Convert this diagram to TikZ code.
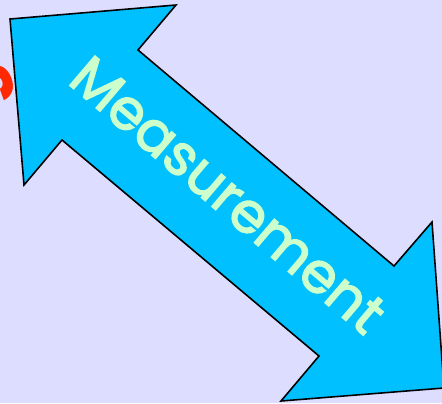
\documentclass[tikz,border=0pt]{standalone}
\usepackage{fontspec}
\setmainfont{Poppins}
\usetikzlibrary{positioning}
\definecolor{SlideLavender}{RGB}{221, 221, 255}
\definecolor{ArrowCyan}{RGB}{0, 192, 255}
\definecolor{LabelMint}{RGB}{204, 255, 204}
\definecolor{SlideRed}{RGB}{255, 40, 0}

\begin{document}
\begin{tikzpicture}[
        x = 0.02cm, y = -0.02cm,
        bigarr/.style = {draw = black, fill = ArrowCyan, line width = 0.9pt, line join = miter},
        lab/.style = {font = \fontsize{32}{36}\selectfont, text = LabelMint, inner sep = 0pt,
            draw = none, line width = 0.5pt}
    ]
        \fill[SlideLavender] (0, 0) rectangle (442, 403);
        \useasboundingbox (0, 0) rectangle (442, 403);

        % clipped piece of red text at the left edge
        \begin{scope}
            \clip (0, 0) rectangle (442, 403);
            \node[text = SlideRed, font = \fontsize{44}{48}\selectfont\bfseries, rotate = -70, inner sep = 0pt] (cut) at (-9, 86) {s};

            % double arrow
            \draw[bigarr] (10, 19) -- (176, 5) -- (138, 50) -- (394, 266) -- (432, 222)
                -- (444, 388) -- (281, 401) -- (319, 356) -- (62, 140) -- (24, 185) -- cycle;
        \end{scope}

        \node[lab, rotate = -40.4] (meas) at (228, 195)
            {\special{pdf:literal 2 Tr 0.8 w 0.8 1 0.8 RG}Measurement\special{pdf:literal 0 Tr}};
    \end{tikzpicture}
\end{document}
